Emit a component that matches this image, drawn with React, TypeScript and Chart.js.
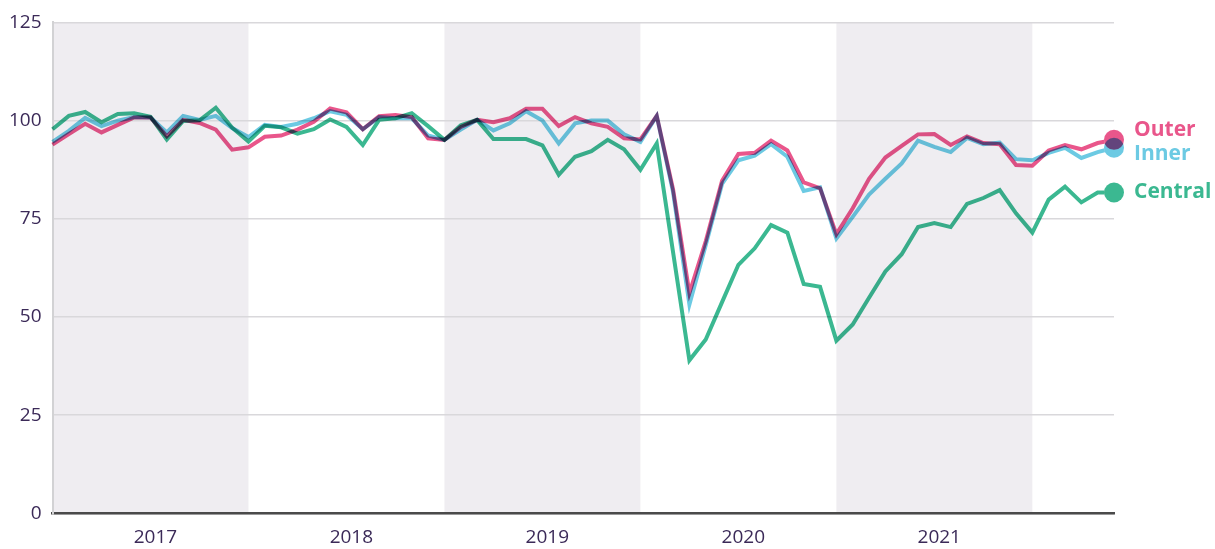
import React, { useEffect, useRef } from 'react';
import { Chart, registerables } from 'chart.js';

Chart.register(...registerables);

// Monthly index values, Jan 2017 .. Jun 2022
const outerValues = [
  93.9, 96.6, 99.2, 97.0, 98.9, 100.8, 100.8, 96.0, 100.2, 99.4, 97.7, 92.6,
  93.2, 95.9, 96.2, 97.7, 99.7, 103.1, 102.1, 97.8, 101.1, 101.4, 100.9, 95.5,
  95.1, 98.4, 100.2, 99.6, 100.6, 103.0, 103.0, 98.6, 100.9, 99.3, 98.4, 95.5,
  95.2, 101.2, 82.5, 56.1, 69.3, 84.7, 91.5, 91.8, 94.9, 92.4, 84.3, 82.8,
  71.1, 77.7, 85.2, 90.6, 93.6, 96.5, 96.6, 93.8, 96.0, 94.3, 94.0, 88.7,
  88.5, 92.4, 93.8, 92.7, 94.3, 95.1,
];
const innerValues = [
  94.6, 97.4, 100.7, 98.6, 100.0, 100.9, 100.8, 97.0, 101.2, 100.2, 101.2, 98.1,
  95.8, 98.9, 98.4, 99.2, 100.6, 102.4, 101.5, 97.8, 100.9, 100.6, 100.6, 96.2,
  95.1, 97.7, 100.2, 97.5, 99.3, 102.4, 100.0, 94.2, 99.3, 100.0, 100.0, 96.5,
  94.6, 101.2, 81.8, 53.2, 68.3, 83.9, 89.9, 91.1, 94.0, 90.8, 82.1, 83.0,
  70.0, 75.5, 81.2, 85.2, 89.1, 94.9, 93.3, 92.0, 95.6, 94.0, 94.4, 90.2,
  89.9, 91.8, 93.1, 90.5, 92.0, 93.1,
];
const centralValues = [
  97.8, 101.2, 102.2, 99.6, 101.7, 101.9, 101.0, 95.2, 99.9, 100.1, 103.3, 98.2,
  94.7, 98.7, 98.3, 96.7, 97.8, 100.3, 98.4, 93.8, 100.2, 100.6, 101.9, 98.6,
  95.1, 98.8, 100.2, 95.3, 95.3, 95.3, 93.7, 86.2, 90.8, 92.2, 95.1, 92.7,
  87.5, 94.2, 66.5, 39.0, 44.3, 53.8, 63.3, 67.5, 73.4, 71.5, 58.4, 57.7,
  44.0, 48.1, 54.9, 61.6, 66.0, 72.9, 73.9, 72.9, 78.8, 80.3, 82.3, 76.4,
  71.5, 79.9, 83.2, 79.2, 81.7, 81.7,
];

const seriesNames = ['Outer', 'Inner', 'Central'];
const seriesColors = ['#e9568b', '#6ccae3', '#3bb891'];
const labelOffsets = [-10, 6, -1];

const yearLabels = ['2017', '2018', '2019', '2020', '2021'];
const yearTickPositions = [6.3, 18.3, 30.3, 42.3, 54.3];
const shadedBands = [
  [0, 12],
  [24, 36],
  [48, 60],
];
const yTicks = [0, 25, 50, 75, 100, 125];

const TEXT_COLOR = '#3b2a58';
const FONT = "'Open Sans', 'Liberation Sans', sans-serif";
const DOT_RADIUS = 10;

const bandsPlugin = {
  id: 'bands',
  beforeDraw(chart: any) {
    const { ctx, chartArea, scales } = chart;
    const x = scales.x;
    ctx.save();
    ctx.fillStyle = '#efedf1';
    for (const [a, b] of shadedBands) {
      const x0 = x.getPixelForValue(a);
      const x1 = x.getPixelForValue(b);
      ctx.fillRect(x0, chartArea.top, x1 - x0, chartArea.bottom - chartArea.top);
    }
    ctx.restore();
  },
};

const multiplyPlugin = {
  id: 'multiplyBlend',
  beforeDatasetsDraw(chart: any) {
    chart.ctx.save();
    chart.ctx.globalCompositeOperation = 'multiply';
  },
  afterDatasetsDraw(chart: any) {
    chart.ctx.restore();
  },
};

const endMarksPlugin = {
  id: 'endMarks',
  afterDatasetsDraw(chart: any) {
    const { ctx, scales } = chart;
    const ends = chart.data.datasets.map((ds: any) => {
      const last = ds.data[ds.data.length - 1];
      return { px: scales.x.getPixelForValue(last.x), py: scales.y.getPixelForValue(last.y) };
    });
    ctx.save();
    // clear line ends under the dots
    ctx.globalCompositeOperation = 'source-over';
    ctx.fillStyle = '#ffffff';
    ends.forEach((e: any) => {
      ctx.beginPath();
      ctx.arc(e.px, e.py, DOT_RADIUS, 0, Math.PI * 2);
      ctx.fill();
    });
    // colored dots, blended
    ctx.globalCompositeOperation = 'multiply';
    ends.forEach((e: any, i: number) => {
      ctx.fillStyle = seriesColors[i];
      ctx.beginPath();
      ctx.arc(e.px, e.py, DOT_RADIUS, 0, Math.PI * 2);
      ctx.fill();
    });
    // labels
    ctx.globalCompositeOperation = 'source-over';
    ctx.font = `bold 21px ${FONT}`;
    ctx.textAlign = 'left';
    ctx.textBaseline = 'middle';
    ends.forEach((e: any, i: number) => {
      ctx.fillStyle = seriesColors[i];
      ctx.fillText(seriesNames[i], e.px + 20, e.py + labelOffsets[i]);
    });
    ctx.restore();
  },
};

export default function App() {
  const canvasRef = useRef<HTMLCanvasElement | null>(null);

  useEffect(() => {
    document.body.style.margin = '0';
    const canvas = canvasRef.current;
    if (!canvas) return;
    const valueSets = [outerValues, innerValues, centralValues];
    const datasets = valueSets.map((vals, si) => ({
      label: seriesNames[si],
      data: vals.map((v, i) => ({ x: i, y: v })),
      borderColor: seriesColors[si],
      backgroundColor: seriesColors[si],
      borderWidth: 4,
      tension: 0,
      fill: false,
      clip: false as any,
      pointRadius: 0,
      pointHoverRadius: 0,
      borderJoinStyle: 'miter' as const,
    }));

    const chart = new Chart(canvas, {
      type: 'line',
      data: { datasets },
      options: {
        animation: false,
        responsive: false,
        maintainAspectRatio: false,
        layout: { padding: { top: 17, right: 101, bottom: 0, left: 0 } },
        plugins: {
          legend: { display: false },
          tooltip: { enabled: false },
        },
        scales: {
          x: {
            type: 'linear',
            min: 0,
            max: 65,
            grid: { display: false },
            border: { display: true, color: '#4a4a4a', width: 2.5 },
            afterBuildTicks: (s: any) => {
              s.ticks = yearTickPositions.map((v) => ({ value: v }));
            },
            afterFit: (s: any) => {
              s.height = 35.5;
            },
            ticks: {
              autoSkip: false,
              maxRotation: 0,
              padding: 5,
              color: TEXT_COLOR,
              font: { family: FONT, size: 19 },
              callback: (_v: any, idx: number) => yearLabels[idx] ?? '',
            },
          },
          y: {
            min: 0,
            max: 125,
            afterBuildTicks: (s: any) => {
              s.ticks = yTicks.map((v) => ({ value: v }));
            },
            afterFit: (s: any) => {
              s.width = 52.5;
            },
            grid: { color: '#d9d8db', lineWidth: 1.6, drawTicks: false },
            border: { display: true, color: '#d2d2d4', width: 2 },
            ticks: {
              padding: 11,
              color: TEXT_COLOR,
              font: { family: FONT, size: 19 },
            },
          },
        },
      },
      plugins: [bandsPlugin, multiplyPlugin, endMarksPlugin],
    });
    return () => chart.destroy();
  }, []);

  return (
    <div style={{ width: 1215, height: 549 }}>
      <canvas ref={canvasRef} width={1215} height={549} style={{ display: 'block' }} />
    </div>
  );
}
